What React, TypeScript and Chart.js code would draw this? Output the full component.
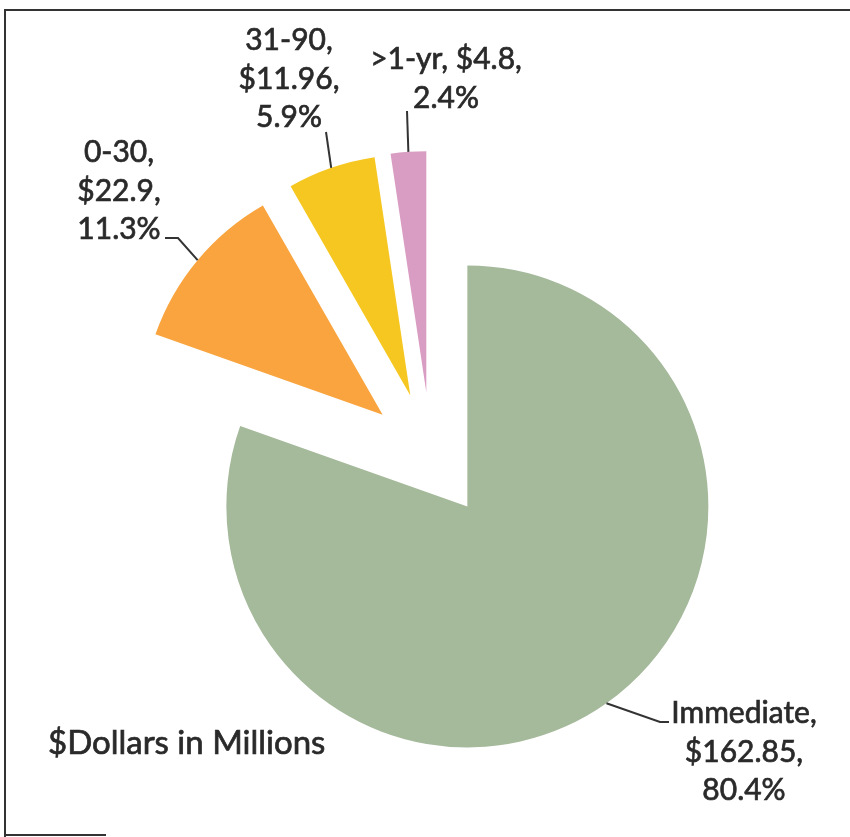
import React, { useEffect, useRef } from "react";
import { Chart, PieController, ArcElement } from "chart.js";

Chart.register(PieController, ArcElement);

// ---- data ----
const categories = ["Immediate", "0-30", "31-90", ">1-yr"];
const values = [162.85, 22.9, 11.96, 4.8];
const colors = ["#A5B99B", "#F9A43E", "#F6C720", "#D99CC3"];
const explode = [63, 63, 63, 63];
const title = "$Dollars in Millions";

// ---- label layout (canvas px) ----
const FONT = "Lato, 'Open Sans', sans-serif";
const LINE_H = 38.5;
const labelLayout = [
  { groups: [[0], [1], [2]], cx: 744, y: 723, leader: [[660, 722], [669, 722]] },
  { groups: [[0], [1], [2]], cx: 119, y: 162, leader: [[178, 238], [165, 238]] },
  { groups: [[0], [1], [2]], cx: 289, y: 50, leader: [[326, 132]] },
  { groups: [[0, 1], [2]], cx: 446, y: 69, leader: [[407, 111]] },
];

const explodePlugin = {
  id: "explodeSlices",
  beforeDatasetsDraw(chart: any) {
    const meta = chart.getDatasetMeta(0);
    meta.data.forEach((el: any, i: number) => {
      el.$explode = explode[i] || 0;
      if (!el.$patched) {
        el.$patched = true;
        el.draw = function (ctx: CanvasRenderingContext2D, area: any) {
          const mid = (this.startAngle + this.endAngle) / 2;
          const d = this.$explode || 0;
          ctx.save();
          ctx.translate(Math.cos(mid) * d, Math.sin(mid) * d);
          ArcElement.prototype.draw.call(this, ctx, area);
          ctx.restore();
        };
      }
    });
  },
};

function drawText(ctx: CanvasRenderingContext2D, text: string, x: number, y: number) {
  ctx.fillText(text, x, y);
  ctx.strokeText(text, x, y);
}

const labelsPlugin = {
  id: "sliceLabels",
  afterDatasetsDraw(chart: any) {
    const ctx: CanvasRenderingContext2D = chart.ctx;
    const meta = chart.getDatasetMeta(0);
    const total = values.reduce((a, b) => a + b, 0);
    ctx.save();
    meta.data.forEach((el: any, i: number) => {
      const { x, y, startAngle, endAngle, outerRadius } = el;
      const mid = (startAngle + endAngle) / 2;
      const d = explode[i] || 0;
      const ax = x + Math.cos(mid) * (d + outerRadius);
      const ay = y + Math.sin(mid) * (d + outerRadius);
      const lay = labelLayout[i];
      ctx.beginPath();
      ctx.moveTo(ax, ay);
      lay.leader.forEach(([px, py]) => ctx.lineTo(px, py));
      ctx.strokeStyle = "#333333";
      ctx.lineWidth = 2;
      ctx.stroke();

      const parts = [
        `${categories[i]},`,
        `$${values[i]},`,
        `${((values[i] / total) * 100).toFixed(1)}%`,
      ];
      ctx.fillStyle = "#2a2a2a";
      ctx.strokeStyle = "#2a2a2a";
      ctx.lineWidth = 0.7;
      ctx.font = `30px ${FONT}`;
      ctx.textAlign = "center";
      ctx.textBaseline = "alphabetic";
      lay.groups.forEach((g, li) => {
        const text = g.map((k) => parts[k]).join(" ");
        drawText(ctx, text, lay.cx, lay.y + li * LINE_H);
      });
    });
    ctx.textAlign = "left";
    ctx.font = `33px ${FONT}`;
    drawText(ctx, title, 48, 754);
    ctx.restore();
  },
};

export default function App() {
  const ref = useRef<HTMLCanvasElement | null>(null);

  useEffect(() => {
    if (!ref.current) return;
    const chart = new Chart(ref.current, {
      type: "pie",
      data: {
        labels: categories,
        datasets: [
          {
            data: values,
            backgroundColor: colors,
            borderWidth: 0,
            clip: false as any,
          } as any,
        ],
      },
      options: {
        animation: false,
        responsive: false,
        radius: 241,
        events: [],
        layout: { padding: { left: 12, top: 73, right: 0, bottom: 0 } },
        plugins: { legend: { display: false }, tooltip: { enabled: false } } as any,
      } as any,
      plugins: [explodePlugin, labelsPlugin] as any,
    });
    return () => chart.destroy();
  }, []);

  return (
    <div
      style={{
        position: "fixed",
        left: 0,
        top: 0,
        width: 850,
        height: 837,
        background: "#fff",
        overflow: "hidden",
      }}
    >
      <canvas ref={ref} width={850} height={837} style={{ position: "absolute", left: 0, top: 0 }} />
      <div style={{ position: "absolute", left: 4, top: 9, width: 846, height: 2, background: "#333" }} />
      <div style={{ position: "absolute", left: 4, top: 9, width: 2, height: 828, background: "#333" }} />
      <div style={{ position: "absolute", left: 4, top: 834, width: 102, height: 2, background: "#333" }} />
    </div>
  );
}
